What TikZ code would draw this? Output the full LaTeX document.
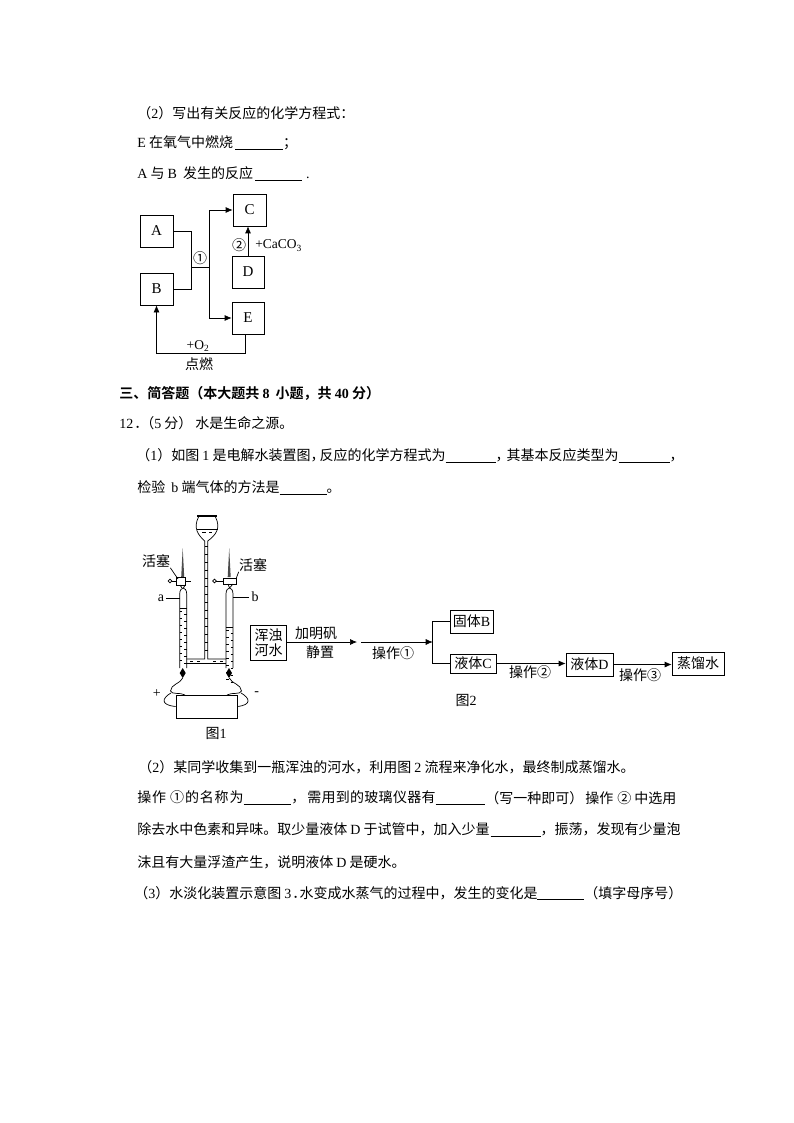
\documentclass[tikz,border=0pt]{standalone}
\usepackage{fontspec}
\usetikzlibrary{arrows.meta}
\setmainfont{Noto Sans CJK SC}
\newfontfamily\latinfont{Liberation Serif}
\newcommand{\la}[1]{{\latinfont #1}}
\newcommand{\blank}[1][46pt]{\rule[-2pt]{#1}{.6pt}}
\tikzset{
    line/.style={anchor=west,inner sep=0pt,font=\fontsize{14}{16}\selectfont},
    label/.style={inner sep=0pt,font=\fontsize{14}{16}\selectfont},
    letterbox/.style={draw,inner sep=0pt,minimum width=33pt,minimum height=32pt,font=\latinfont\fontsize{15}{17}\selectfont},
    flowbox/.style={draw,inner sep=1pt,font=\fontsize{14}{16}\selectfont,align=center}
}
\begin{document}
\begin{tikzpicture}[>={Latex[length=7pt,width=6pt]},x=1pt,y=-1pt,line width=.7pt]
\useasboundingbox(0,0)rectangle(794,1123);
% text above the first scheme
\node[line](t1)at(137,113){（\la{2}）写出有关反应的化学方程式：};
\node[line](t2)at(137,143){\la{E} 在氧气中燃烧\kern2pt\blank[48pt]；};
\node[line](t3)at(137,174){\la{A} 与 \la{B} \kern3pt发生的反应\kern2pt\blank[47pt]\kern4pt\la{.}};
% scheme with A to E
\node[letterbox](A)at(156.5,231){A};
\node[letterbox](B)at(156.5,289){B};
\node[letterbox](C)at(249.5,210){C};
\node[letterbox,minimum width=32pt](D)at(248,272){D};
\node[letterbox,minimum width=32pt](E)at(248,318){E};
\coordinate(jl)at(191,267);
\coordinate(jr)at(209,267);
\coordinate(eb)at(245.7,353);
\draw(A)-|(jl);
\draw(B)-|(jl);
\draw(jl)--(jr);
\draw[->](jr)|-(C);
\draw[->](jr)|-(E);
\draw[->](D.north)--(D.north|-C.south);
\draw[->](E.south-|eb)--(eb)-|(B);
\node[label](n1)at(200,258.5){①};
\node[label](n2)at(239,245){②};
\node[anchor=west,inner sep=0pt,font=\latinfont\fontsize{13.5}{16}\selectfont](caco)at(255,245.5){+CaCO\textsubscript{3}};
\node[inner sep=0pt,font=\latinfont\fontsize{13.5}{16}\selectfont](otwo)at(198,346){+O\textsubscript{2}};
\node[label](burn)at(199,364){点燃};
% question text
\node[line](t4)at(119,393){\fontspec{Noto Sans CJK SC Bold}三、简答题（本大题共 \la{\bfseries 8} \kern3pt小题，共 \la{\bfseries 40} 分）};
\node[line](t5)at(119,423){\la{12}\kern1pt．\kern-8pt（\la{5} 分）\kern3pt水是生命之源。};
\node[line](t6)at(136,456){（\la{1}）如图 \la{1} 是电解水装置图，\kern-5pt反应的化学方程式为\blank[50pt]，\kern-3pt其基本反应类型为\blank[51pt]，};
\node[line](t7)at(137,488){检验 \kern3pt\la{b} 端气体的方法是\blank[47pt]。};
% electrolysis apparatus
\draw[line width=1.6pt](197,516)--(217,516);
\draw(198.5,517)..controls(193,528)and(198,535)..(204.7,541)--(204.7,659)--(186.7,659);
\draw(215.5,517)..controls(221,528)and(216,535)..(207.7,541)--(207.7,659)--(226,659);
\draw(186.7,663)--(226,663);
\draw(196.5,529)--(217.5,529);
\draw(202,532.5)--(206,532.5)(209,532.5)--(212,532.5);
\foreach \y in {546,554,...,656}{\draw(204.7,\y)--(207.7,\y);}
\foreach \x in {190,197,213,220}{\draw(\x,661)--(\x+3,661);}
\foreach \x/\l in {179.7/608,226/627}{
    \draw(\x,668)--(\x,594)..controls(\x,590)and(\x+2,588)..(\x+3.5,588)..controls(\x+5,588)and(\x+7,590)..(\x+7,594)--(\x+7,668);
    \draw(\x,\l)--(\x+7,\l);
    \foreach \y in {0,7,...,49}{
        \draw(\x,\l+3+\y)--(\x+2.5,\l+3+\y);
        \draw(\x+4.5,\l+6.5+\y)--(\x+7,\l+6.5+\y);
    }
    \fill(\x+3,668)--(\x+6,673)--(\x+3,678)--(\x,673)--cycle;
}
\foreach \x in {182.7,229.2}{
    \fill[black!70](\x,548)--(\x+1.5,577)--(\x-1.5,577)--cycle;
}
% stopcocks
\draw(171.7,581)--(176,581)(185,581)--(191,581);
\draw(170,581)circle(1.8);
\draw(176,577)rectangle(185,585);
\draw(180,585)--(182,588)(185,585)--(183.5,588);
\draw(216,581)--(223.3,581);
\draw(214.5,581)circle(1.8);
\draw(223.3,578)rectangle(236,584);
\draw(228,584)--(229.5,588)(233,584)--(229.5,588);
% battery and wires
\node[draw,minimum width=61pt,minimum height=23pt,inner sep=0pt](cell)at(206.5,706.5){};
\coordinate(la)at(182.7,678);
\coordinate(rb)at(229.2,678);
\draw(la)..controls(180,684)and(171,684)..(170.5,691)..controls(172,695)and(180,692)..(185,695);
\draw(171,693)..controls(162,698)and(160,705)..(cell.west);
\draw(rb)..controls(232,684)and(241,684)..(241.5,691)..controls(240,695)and(232,692)..(227,695);
\draw(241,693)..controls(250,698)and(252,705)..(cell.east);
% labels of the apparatus
\node[label](cockl)at(156,561){活塞};
\node[label](cockr)at(253,565){活塞};
\draw(cockl.south east)--(178,579);
\draw(cockr.south west)--(236,579);
\node[inner sep=0pt,font=\latinfont\fontsize{14}{16}\selectfont](a)at(161,598){a};
\node[inner sep=0pt,font=\latinfont\fontsize{14}{16}\selectfont](b)at(255,597){b};
\coordinate(ta)at(179.7,598);
\coordinate(tb)at(233.3,597);
\draw(a.east)+(2,0)--(ta);
\draw(b.west)+(-2,0)--(tb);
\node[inner sep=0pt,font=\latinfont\fontsize{14}{16}\selectfont](plus)at(156.7,694){+};
\node[inner sep=0pt,font=\latinfont\fontsize{14}{16}\selectfont](minus)at(256.7,694){-};
\node[label](fig1)at(216,733){图\la{1}};
% purification scheme
\node[flowbox,minimum width=36pt,minimum height=35pt,inner sep=0pt,font=\fontsize{14}{16}\selectfont](river)at(268.7,642.5){浑浊\\[-1pt]河水};
\node[flowbox,minimum width=43pt,minimum height=23pt,inner sep=0pt](sb)at(471.5,621.5){固体\la{B}};
\node[flowbox,minimum width=46pt,minimum height=19pt,inner sep=0pt](lc)at(473,663.5){液体\la{C}};
\node[flowbox,minimum width=47pt,minimum height=23pt,inner sep=0pt](ld)at(589.5,664.5){液体\la{D}};
\node[flowbox,minimum width=52pt,minimum height=23pt,inner sep=0pt](dw)at(698,663.5){蒸馏水};
\coordinate(g1)at(357,642);
\coordinate(g2)at(361,642);
\coordinate(sp)at(432.7,642);
\draw[->](river.east|-g1)--(g1);
\draw[->](g2)--(sp);
\draw(sp)|-(sb.west);
\draw(sp)|-(lc.west);
\draw[->](lc)--(ld.west|-lc);
\draw[->](ld)--(dw.west|-ld);
\node[label](add)at(316,633){加明矾};
\node[label](rest)at(320,652){静置};
\node[label](op1)at(393,653){操作①};
\node[label](op2)at(530,672){操作②};
\node[label](op3)at(640,675){操作③};
\node[label](fig2)at(466,700){图\la{2}};
% question text below
\node[line](t8)at(138,767){（\la{2}）某同学收集到一瓶浑浊的河水，利用图 \la{2} 流程来净化水，最终制成蒸馏水。};
\node[line](t9a)at(137,798){\addfontfeature{LetterSpace=6}操作 ①的名称为\blank[47pt]};
\node[line](t9b)at(291,798){，\kern2pt\addfontfeature{LetterSpace=2}需用到的玻璃仪器有\blank[49pt]};
\node[line](t9c)at(485,798){（写一种即可）};
\node[line](t9d)at(585,798){操作 \kern1pt②\kern3pt中选用};
\node[line](t10)at(137,830){除去水中色素和异味。取少量液体 \la{D} 于试管中，加入少量\kern1pt\blank[50pt]，振荡，发现有少量泡};
\node[line](t11)at(137,862){沫且有大量浮渣产生，说明液体 \la{D} 是硬水。};
\node[line](t12)at(134,893){（\la{3}）水淡化装置示意图 \la{3}\kern1pt．\kern-7pt水变成水蒸气的过程中，发生的变化是\blank[47pt]（填字母序号）};
\end{tikzpicture}
\end{document}
